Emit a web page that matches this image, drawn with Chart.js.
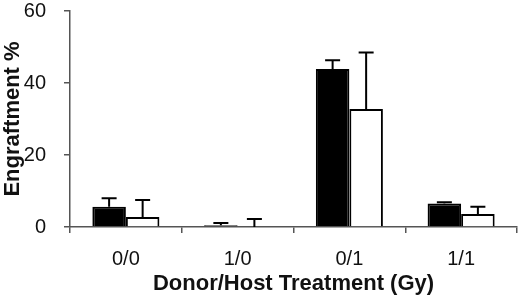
<!DOCTYPE html>
<html>
<head>
  <meta charset="UTF-8">
  <title>Engraftment</title>
  <script src="https://cdn.jsdelivr.net/npm/chart.js"></script>
  <style>
    body { margin: 0; background: #fff; }
  </style>
</head>
<body>
  <canvas id="grafico" width="520" height="301"></canvas>

<script>
  // dados
  const categorias = ['0/0', '1/0', '0/1', '1/1'];
  const valoresPretos = [5.6, 0.5, 43.9, 6.5];
  const errosPretos = [2.4, 0.6, 2.4, 0.4];
  const valoresBrancos = [2.8, 0, 32.8, 3.6];
  const errosBrancos = [4.7, 2.2, 15.7, 2.0];
  const ticksY = [0, 20, 40, 60];

  const fonte = "'Liberation Sans', Arial, sans-serif";

  // desenha so a parte de cima do erro, com tampa
  const barrasErro = {
    id: 'barrasErro',
    afterDatasetsDraw(chart) {
      const ctx = chart.ctx;
      const y = chart.scales.y;
      chart.data.datasets.forEach(function (ds, d) {
        const meta = chart.getDatasetMeta(d);
        meta.data.forEach(function (bar, i) {
          const topo = y.getPixelForValue(ds.data[i] + ds.erros[i]);
          const base = y.getPixelForValue(ds.data[i]);
          ctx.save();
          ctx.strokeStyle = '#000';
          ctx.lineWidth = 2;
          ctx.beginPath();
          ctx.moveTo(bar.x, base);
          ctx.lineTo(bar.x, topo);
          ctx.moveTo(bar.x - 7.5, topo);
          ctx.lineTo(bar.x + 7.5, topo);
          ctx.stroke();
          ctx.restore();
        });
      });
    }
  };

  const dados = {
    labels: categorias,
    datasets: [{
      label: 'Preto',
      data: valoresPretos,
      erros: errosPretos,
      backgroundColor: '#000',
      borderColor: '#000',
      borderWidth: 2
    }, {
      label: 'Branco',
      data: valoresBrancos,
      erros: errosBrancos,
      backgroundColor: '#fff',
      borderColor: '#000',
      borderWidth: 2
    }]
  };

  const config = {
    type: 'bar',
    data: dados,
    plugins: [barrasErro],
    options: {
      responsive: false,
      animation: false,
      categoryPercentage: 0.6,
      barPercentage: 1.0,
      layout: { padding: { left: 0, right: 3, top: 11, bottom: 0 } },
      plugins: {
        legend: { display: false },
        tooltip: { enabled: false }
      },
      scales: {
        x: {
          afterFit: function (s) { s.height = 74; },
          grid: {
            drawOnChartArea: false,
            drawTicks: true,
            tickLength: 6,
            color: '#555',
            lineWidth: 1.5
          },
          border: { display: true, color: '#555', width: 1.5 },
          ticks: {
            color: '#111',
            padding: 14,
            font: { family: fonte, size: 20 }
          },
          title: {
            display: true,
            text: 'Donor/Host Treatment (Gy)',
            color: '#111',
            padding: { top: 0, bottom: 4 },
            font: { family: fonte, size: 22, weight: 'bold' }
          }
        },
        y: {
          min: 0,
          max: 60,
          afterFit: function (s) {
            s.width = 70;
            s.paddingTop = 0;
            s.paddingBottom = 0;
          },
          afterBuildTicks: function (s) {
            s.ticks = ticksY.map(function (v) { return { value: v }; });
          },
          grid: {
            drawOnChartArea: false,
            drawTicks: true,
            tickLength: 6,
            color: '#555',
            lineWidth: 1.5
          },
          border: { display: true, color: '#555', width: 1.5 },
          ticks: {
            color: '#111',
            padding: 18,
            font: { family: fonte, size: 20 }
          },
          title: {
            display: true,
            text: 'Engraftment %',
            color: '#111',
            padding: { top: 0, bottom: 0 },
            font: { family: fonte, size: 22, weight: 'bold' }
          }
        }
      }
    }
  };

  let meuGrafico = new Chart(document.getElementById('grafico'), config);
</script>
</body>
</html>
